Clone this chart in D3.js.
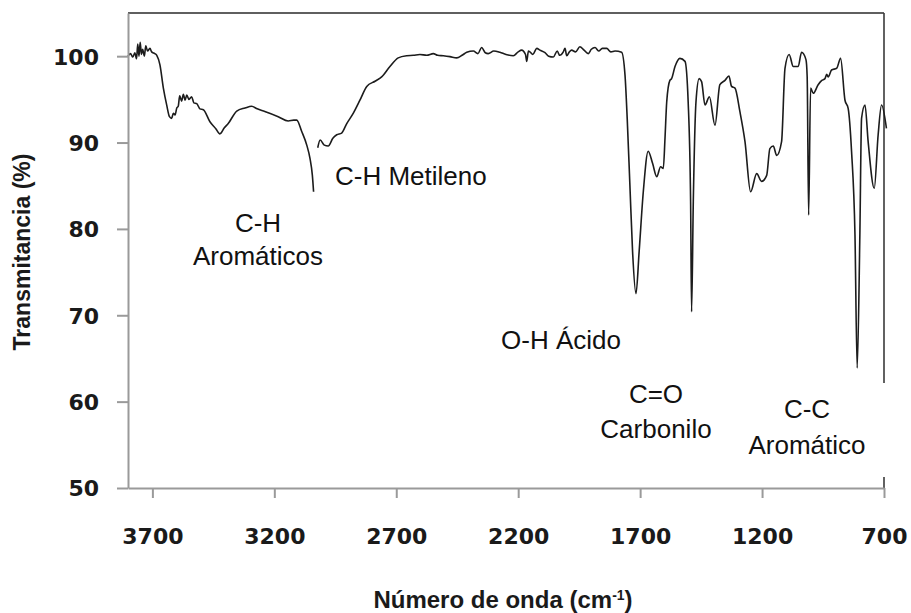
<!DOCTYPE html>
<html>
<head>
<meta charset="utf-8">
<script src="https://cdn.jsdelivr.net/npm/d3@7"></script>
<style>
  html, body { margin: 0; padding: 0; background: #fff; }
  svg { display: block; }
</style>
</head>
<body>
<svg id="chart" width="911" height="613"></svg>
<script>
// ---- data ----
const wavenumber = [
  3800,3790,3780,3772,3765,3760,3755,3750,3745,3740,3733,3727,3720,3710,3703,3690,3682,3669,3655,3641,
  3630,3621,3614,3607,3600,3594,3588,3580,3573,3566,3559,3550,3539,3530,3518,3505,3491,3464,3440,3423,
  3405,3389,3354,3320,3293,3270,3239,3184,3143,3120,3108,3088,3067,3054,3044,3039,
  3030,
  3022,3012,2995,2979,2960,2944,2924,2903,2876,2849,2821,2787,2760,2726,2692,2657,2630,2603,2575,2548,
  2530,2507,2480,2452,2430,2411,2384,2365,2350,2335,2323,2300,2275,2250,2220,2200,2186,2170,2165,2158,
  2152,2140,2124,2111,2090,2075,2056,2040,2030,2015,2008,2001,1990,1981,1965,1947,1930,1913,1900,1885,
  1870,1855,1837,1820,1803,1776,1762,1753,1742,1731,1717,1704,1687,1667,1649,1632,1616,1605,1598,1591,
  1578,1571,1557,1537,1516,1503,1493,1489,1482,1471,1458,1448,1434,1416,1393,1373,1352,1336,1325,1311,
  1291,1270,1247,1222,1202,1181,1168,1154,1140,1120,1106,1089,1072,1052,1038,1020,1015,1009,1001,990,
  970,955,942,935,929,915,894,878,860,847,833,819,810,799,792,778,765,740,724,710,690
];
const transmittance = [
  100.0,100.3,99.9,100.4,99.7,101.4,100.0,101.6,100.2,100.8,100.0,101.2,100.6,100.9,100.5,100.3,100.1,99.0,96.3,94.3,
  93.0,92.8,93.4,93.2,94.0,94.2,95.4,94.8,95.6,94.9,95.5,95.0,95.3,94.6,94.5,93.9,93.8,92.4,91.6,91.0,
  91.7,92.2,93.65,94.0,94.2,93.9,93.6,93.0,92.5,92.6,92.6,91.3,89.7,88.2,86.2,84.3,
  null,
  89.4,90.3,89.7,89.6,90.5,90.9,91.1,92.2,93.4,94.9,96.5,97.1,97.6,98.8,99.8,100.05,100.1,100.2,100.1,100.3,
  100.1,100.05,99.95,99.8,100.1,100.45,100.6,100.3,101.0,100.4,100.3,100.6,100.45,100.2,100.05,100.5,100.7,100.2,99.4,100.6,
  100.5,100.2,100.9,100.7,100.4,100.0,99.9,100.6,100.1,100.5,100.9,100.05,100.5,100.7,100.5,101.1,100.7,100.3,100.8,101.0,
  100.6,100.9,100.9,100.5,100.6,100.45,97.8,92.8,85.1,77.4,72.5,77.4,84.3,89.0,87.6,86.05,87.2,87.0,90.5,94.7,
  97.2,97.4,98.8,99.75,99.4,94.7,83.15,70.4,83.15,94.7,97.4,97.05,94.35,95.3,92.0,96.7,97.2,97.7,96.5,96.3,
  93.6,90.1,84.3,86.4,85.5,86.2,89.3,89.6,88.5,90.1,98.6,100.2,98.8,98.8,100.45,99.6,97.6,81.6,96.3,95.7,
  96.7,97.2,97.4,97.9,97.6,98.4,98.6,99.75,94.9,93.95,88.95,79.3,63.9,79.3,92.8,94.35,90.1,84.7,90.9,94.35,91.65
];
const xTicks = [3700, 3200, 2700, 2200, 1700, 1200, 700];
const yTicks = [50, 60, 70, 80, 90, 100];
const annotationLines = [
  ["C-H", "Aromáticos"],
  ["C-H Metileno"],
  ["O-H Ácido"],
  ["C=O", "Carbonilo"],
  ["C-C", "Aromático"]
];
const yTitle = "Transmitancia (%)";
const xTitleMain = "Número de onda (cm";
const xTitleSup = "-1";

(function () {
  const svg = d3.select("#chart");
  const pL = 128, pR = 884, pT = 13, pB = 488;

  const x = d3.scaleLinear().domain([3800, 700]).range([pL, pR]);
  const y = d3.scaleLinear().domain([50, 105]).range([pB, pT]);

  const points = wavenumber.map((w, i) => ({ w, t: transmittance[i] }));

  // top and right frame
  svg.append("line").attr("x1", pL).attr("x2", pR).attr("y1", pT).attr("y2", pT)
    .attr("stroke", "#2a2a2a").attr("stroke-width", 1.6);
  svg.append("line").attr("x1", pR).attr("x2", pR).attr("y1", pT).attr("y2", pB)
    .attr("stroke", "#3a3a3a").attr("stroke-width", 1.6);

  // spectrum
  const line = d3.line()
    .defined(d => d.t !== null)
    .x(d => x(d.w))
    .y(d => y(d.t))
    .curve(d3.curveMonotoneX);
  svg.append("path").datum(points)
    .attr("d", line)
    .attr("fill", "none")
    .attr("stroke", "#1c1c1c")
    .attr("stroke-width", 1.6)
    .attr("stroke-linejoin", "round");

  // axes
  const axisColor = "#9a9a9a";
  const yAxis = svg.append("g").attr("transform", `translate(${pL},0)`)
    .call(d3.axisLeft(y).tickValues(yTicks).tickFormat(d3.format("d"))
      .tickSize(11).tickSizeOuter(0).tickPadding(18));
  const xAxis = svg.append("g").attr("transform", `translate(0,${pB})`)
    .call(d3.axisBottom(x).tickValues(xTicks).tickFormat(d3.format("d"))
      .tickSize(10).tickSizeOuter(0).tickPadding(30));
  [yAxis, xAxis].forEach(g => {
    g.select(".domain").attr("stroke", axisColor).attr("stroke-width", 2);
    g.selectAll(".tick line").attr("stroke", axisColor).attr("stroke-width", 2);
    g.selectAll(".tick text")
      .attr("fill", "#1a1a1a")
      .style("font-family", "'DejaVu Sans', sans-serif")
      .style("font-weight", "bold")
      .style("font-size", "22px");
  });
  yAxis.selectAll(".tick text").attr("dy", "0.36em");
  xAxis.selectAll(".tick text").attr("dy", "0.72em");

  // axis titles
  svg.append("text")
    .attr("transform", `translate(30,252) rotate(-90)`)
    .attr("text-anchor", "middle")
    .style("font-family", "'Liberation Sans', Arial, sans-serif")
    .style("font-weight", "bold")
    .style("font-size", "23px")
    .attr("fill", "#1a1a1a")
    .text(yTitle);

  const xt = svg.append("text")
    .attr("x", 503).attr("y", 608)
    .attr("text-anchor", "middle")
    .style("font-family", "'Liberation Sans', Arial, sans-serif")
    .style("font-weight", "bold")
    .style("font-size", "24px")
    .attr("fill", "#1a1a1a");
  xt.append("tspan").text(xTitleMain);
  xt.append("tspan").attr("dy", -8).style("font-size", "14px").text(xTitleSup);
  xt.append("tspan").attr("dy", 8).text(")");

  // white text-box background for the C-C label (hides part of the right frame)
  svg.append("rect").attr("x", 742).attr("y", 383).attr("width", 150).attr("height", 94).attr("fill", "#fff");

  const annPos = [
    { cx: 258, ys: [232, 265], anchor: "middle" },
    { cx: 335, ys: [185], anchor: "start" },
    { cx: 561, ys: [349], anchor: "middle" },
    { cx: 656, ys: [403, 438], anchor: "middle" },
    { cx: 807, ys: [418, 454], anchor: "middle" }
  ];
  annotationLines.forEach((lines, i) => {
    const p = annPos[i];
    lines.forEach((txt, j) => {
      svg.append("text")
        .attr("x", p.cx).attr("y", p.ys[j])
        .attr("text-anchor", p.anchor)
        .style("font-family", "'Liberation Sans', Arial, sans-serif")
        .style("font-size", "26px")
        .attr("fill", "#111")
        .text(txt);
    });
  });
})();
</script>
</body>
</html>
